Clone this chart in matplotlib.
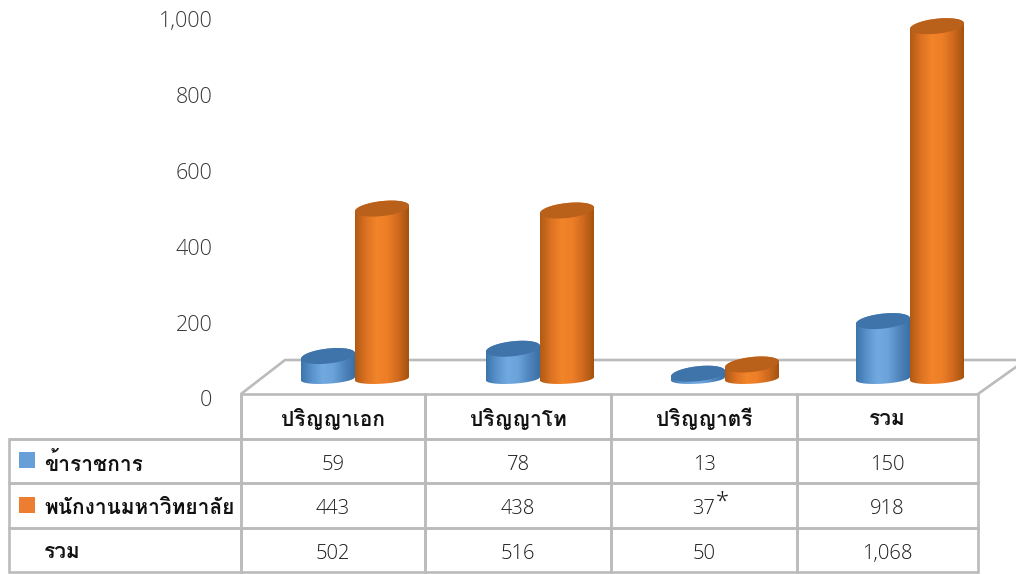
import numpy as np
import matplotlib
matplotlib.use('Agg')
import matplotlib.pyplot as plt
from matplotlib.path import Path
from matplotlib.patches import PathPatch, Rectangle
from matplotlib.colors import LinearSegmentedColormap
from matplotlib.transforms import Affine2D

categories = ['ปริญญาเอก', 'ปริญญาโท', 'ปริญญาตรี', 'รวม']
row_labels = ['ข้าราชการ', 'พนักงานมหาวิทยาลัย', 'รวม']
gov_values = [59, 78, 13, 150]
staff_values = [443, 438, 37, 918]
total_values = [502, 516, 50, 1068]
value_ticks = [0, 200, 400, 600, 800, 1000]

W, H = 1016, 574
THAI = ['Loma', 'Open Sans', 'DejaVu Sans']
NUM = ['Open Sans', 'DejaVu Sans']
plt.rcParams['font.family'] = THAI

fig = plt.figure(figsize=(W / 100, H / 100), dpi=100)

GREY = '#BBBBBB'
LW = 1.9

# fondo: piso 3D en pixeles
ax_bg = fig.add_axes([0, 0, 1, 1])
ax_bg.set_xlim(0, W)
ax_bg.set_ylim(H, 0)
ax_bg.axis('off')
ax_bg.plot([241, 285, 1016], [394, 360, 360], color=GREY, lw=LW, solid_capstyle='butt')
ax_bg.plot([978, 1016], [394, 367], color=GREY, lw=LW)

# eje de valores
ax_val = fig.add_axes([222 / W, (H - 398.5) / H, 780 / W, 379 / H])
ax_val.patch.set_visible(False)
for s in ax_val.spines.values():
    s.set_visible(False)
ax_val.set_ylim(0, 1000)
ax_val.set_xticks([])
ax_val.set_yticks(value_ticks)
ax_val.set_yticklabels([f'{v:,}' for v in value_ticks], fontsize=15.5, color='#383838',
                       family=NUM, fontweight='light')
ax_val.tick_params(axis='y', length=0, pad=7)

# cilindros
PX_CAT = 185.0
PX_VAL = 0.384
ax = fig.add_axes([0, 0, 1, 1])
ax.patch.set_visible(False)
ax.axis('off')
xlim = (-355 / PX_CAT, (W - 355) / PX_CAT)
ylim = (-(H - 378.7) / PX_VAL, 378.7 / PX_VAL)

half_w = 27.0 / PX_CAT
cap_b = 7.5 / PX_VAL
cap_k = 2.8 / PX_VAL
base_b = 5.0 / PX_VAL

blue_cm = LinearSegmentedColormap.from_list('b', ['#3C74AC', '#5A93CC', '#72A9E0', '#6AA2DA', '#4F86BE', '#3A70A4'])
orange_cm = LinearSegmentedColormap.from_list('o', ['#B05A16', '#DC7222', '#F28429', '#EE7E27', '#D06A1E', '#A4530F'])


def draw_cylinder(ax, xc, value, cmap, top_color):
    # cuerpo: mitad inferior de la base + mitad superior de la tapa
    t_low = np.linspace(np.pi, 2 * np.pi, 40)
    t_top = np.linspace(0, np.pi, 40)
    x_body = np.r_[xc + half_w * np.cos(t_low), xc + half_w * np.cos(t_top)]
    y_body = np.r_[base_b * np.sin(t_low) + cap_k * 0.6 * np.cos(t_low),
                   value + cap_b * np.sin(t_top) + cap_k * np.cos(t_top)]
    body = PathPatch(Path(np.c_[x_body, y_body]), transform=ax.transData, fc='none', ec='none')
    ax.add_patch(body)
    grad = np.linspace(0, 1, 128).reshape(1, -1)
    im = ax.imshow(grad, cmap=cmap, aspect='auto', interpolation='bilinear',
                   extent=(xc - half_w, xc + half_w, -base_b * 2, value + cap_b * 2))
    im.set_clip_path(body)
    t = np.linspace(0, 2 * np.pi, 80)
    ax.fill(xc + half_w * np.cos(t), value + cap_b * np.sin(t) + cap_k * np.cos(t),
            color=top_color, lw=0)


for i in range(len(categories)):
    draw_cylinder(ax, i - half_w, gov_values[i], blue_cm, '#3F74AA')
    draw_cylinder(ax, i + half_w, staff_values[i], orange_cm, '#B9601A')
ax.set_xlim(*xlim)
ax.set_ylim(*ylim)

# tabla
ax_tb = fig.add_axes([0, 0, 1, 1])
ax_tb.patch.set_visible(False)
ax_tb.axis('off')
ax_tb.set_xlim(0, W)
ax_tb.set_ylim(H, 0)
cell_text = [[''] + categories,
             [row_labels[0]] + [f'{v:,}' for v in gov_values],
             [row_labels[1]] + [f'{v:,}' for v in staff_values],
             [row_labels[2]] + [f'{v:,}' for v in total_values]]
table = ax_tb.table(cellText=cell_text, colWidths=[232, 184, 186, 186, 181],
                    bbox=[9 / W, 2 / H, 969 / W, 178 / H], cellLoc='center')
table.auto_set_font_size(False)
for (r, c), cell in table.get_celld().items():
    cell.set_edgecolor(GREY)
    cell.set_linewidth(LW)
    cell.set_facecolor('none')
    txt = cell.get_text()
    if r == 0 or c == 0:
        txt.set_transform(Affine2D().translate(0, -3))
        txt.set_fontsize(15)
        txt.set_fontweight('bold')
        txt.set_color('#111111')
    else:
        txt.set_transform(Affine2D().translate(0, -4))
        txt.set_fontsize(14.5)
        txt.set_family(NUM)
        txt.set_fontweight('light')
        txt.set_color('#1A1A1A')
    if c == 0:
        cell.PAD = 35 / 232
        txt.set_ha('left')
table[(0, 0)].visible_edges = 'BR'

ax_tb.add_patch(Rectangle((19, 452), 16, 16, fc='#699FD8', ec='none'))
ax_tb.add_patch(Rectangle((19, 497), 16, 16, fc='#ED7D31', ec='none'))
ax_tb.text(722, 503, '*', fontsize=17, color='#1A1A1A', ha='center', va='center',
           family=NUM, fontweight='light')

fig.savefig('out.png', dpi=100)
